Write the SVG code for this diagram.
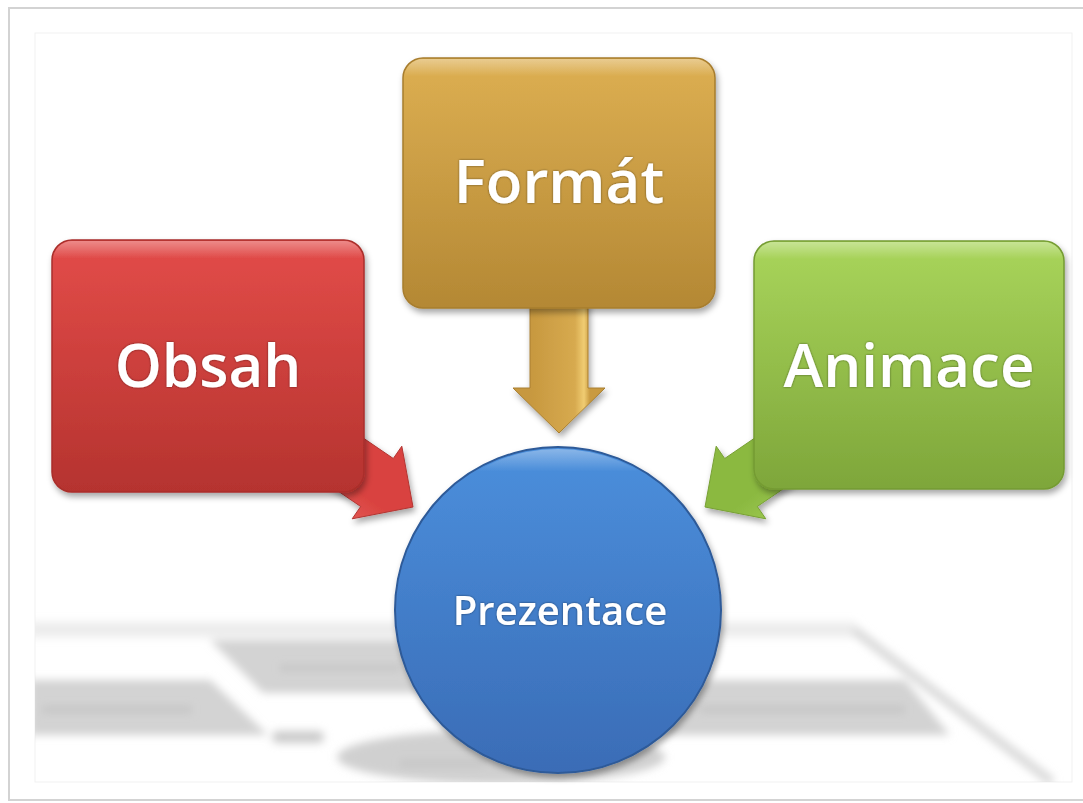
<svg xmlns="http://www.w3.org/2000/svg" width="1083" height="803" viewBox="0 0 1083 803">
<defs>
<style>
.lbl{font-family:"Open Sans","Noto Sans","DejaVu Sans",sans-serif;fill:#ffffff;text-anchor:middle;font-weight:600}
.big{font-size:60px}
.small{font-size:40px}
.refl{fill:#d3d3d3}
</style>
<linearGradient id="gRed" x1="0" y1="0" x2="0" y2="1"><stop offset="0" stop-color="#e34c49"/><stop offset="1" stop-color="#b5332f"/></linearGradient>
<linearGradient id="gGold" x1="0" y1="0" x2="0" y2="1"><stop offset="0" stop-color="#ddaf52"/><stop offset="1" stop-color="#b48834"/></linearGradient>
<linearGradient id="gGreen" x1="0" y1="0" x2="0" y2="1"><stop offset="0" stop-color="#a9d55b"/><stop offset="1" stop-color="#7ea63a"/></linearGradient>
<linearGradient id="gBlue" x1="0" y1="0" x2="0" y2="1"><stop offset="0" stop-color="#4b8fdc"/><stop offset="1" stop-color="#3a6cb6"/></linearGradient>
<linearGradient id="gHi" x1="0" y1="0" x2="0" y2="1"><stop offset="0" stop-color="#ffffff" stop-opacity="0.35"/><stop offset="0.07" stop-color="#ffffff" stop-opacity="0"/></linearGradient>
<linearGradient id="gArrRed" gradientUnits="userSpaceOnUse" x1="330" y1="470" x2="300" y2="512"><stop offset="0" stop-color="#d9423f"/><stop offset="1" stop-color="#e96863"/></linearGradient>
<linearGradient id="gArrGreen" gradientUnits="userSpaceOnUse" x1="788" y1="470" x2="818" y2="512"><stop offset="0" stop-color="#8bb941"/><stop offset="1" stop-color="#a6d157"/></linearGradient>
<linearGradient id="gArrGold" gradientUnits="userSpaceOnUse" x1="530" y1="0" x2="590" y2="0"><stop offset="0" stop-color="#c7983f"/><stop offset="0.75" stop-color="#d7aa4f"/><stop offset="0.9" stop-color="#f0cc72"/><stop offset="1" stop-color="#c99a40"/></linearGradient>
<filter id="shadow" x="-10%" y="-10%" width="125%" height="130%"><feDropShadow dx="2" dy="4" stdDeviation="3" flood-color="#000" flood-opacity="0.35"/></filter>
<filter id="tshadow" x="-10%" y="-20%" width="120%" height="140%"><feDropShadow dx="0" dy="0" stdDeviation="1" flood-color="#000" flood-opacity="0.5"/></filter>
<filter id="blur" x="-10%" y="-30%" width="120%" height="160%"><feGaussianBlur stdDeviation="4"/></filter>
<filter id="blurS" x="-10%" y="-50%" width="120%" height="200%"><feGaussianBlur stdDeviation="3.5"/></filter>
<clipPath id="panel"><rect x="35" y="33" width="1037" height="749"/></clipPath>
</defs>
<rect x="0" y="0" width="1083" height="803" fill="#ffffff"/>
<g id="frame">
<rect x="9" y="8" width="1090" height="792" fill="#ffffff" stroke="#d3d3d3" stroke-width="2"/>
<rect x="35" y="33" width="1037" height="749" fill="#ffffff" stroke="#f1f1f1" stroke-width="1"/>
</g>
<g id="reflection" clip-path="url(#panel)">
<g filter="url(#blur)">
<rect x="30" y="622" width="826" height="15" fill="#ececec"/>
<line x1="854" y1="630" x2="1052" y2="782" stroke="#d8d8d8" stroke-width="9"/>
<polygon class="refl" points="210,640 640,640 640,693 263,693"/>
<polygon class="refl" points="30,680 210,680 268,735 30,735"/>
<rect x="272" y="731" width="52" height="12" rx="6" fill="#cbcbcb"/>
<polygon class="refl" points="640,680 905,680 950,735 640,735"/>
<ellipse cx="501" cy="757" rx="164" ry="27" fill="#d0d0d0"/>
</g>
<g filter="url(#blurS)" fill="#c9c9c9">
<rect x="280" y="664" width="120" height="8"/>
<rect x="42" y="705" width="150" height="9"/>
<rect x="700" y="705" width="205" height="9"/>
<rect x="400" y="759" width="85" height="9"/>
</g>
</g>
<g id="connectors">
<path id="arrow-obsah" d="M269.3,374 L393.3,458.5 L401.8,446.2 L413,507 L352.2,518.8 L360.7,506.5 L236.7,422 Z" fill="url(#gArrRed)" stroke="#b23532" stroke-width="1" filter="url(#shadow)"/>
<path id="arrow-format" d="M530,300 L588,300 L588,388 L605,388 L559,433 L513,388 L530,388 Z" fill="url(#gArrGold)" stroke="#a97f30" stroke-width="1" filter="url(#shadow)"/>
<path id="arrow-animace" d="M848.7,374 L724.7,458.5 L716.2,446.2 L705,507 L765.8,518.8 L757.3,506.5 L881.3,422 Z" fill="url(#gArrGreen)" stroke="#78a035" stroke-width="1" filter="url(#shadow)"/>
</g>
<g id="node-obsah">
<rect x="52" y="240" width="312" height="252" rx="20" fill="url(#gRed)" stroke="#a92e2b" stroke-width="1.5" filter="url(#shadow)"/>
<rect x="53" y="241" width="310" height="250" rx="19" fill="url(#gHi)"/>
<text class="lbl big" x="208" y="387" filter="url(#tshadow)">Obsah</text>
</g>
<g id="node-format">
<rect x="403" y="58" width="312" height="250" rx="20" fill="url(#gGold)" stroke="#a77d2e" stroke-width="1.5" filter="url(#shadow)"/>
<rect x="404" y="59" width="310" height="248" rx="19" fill="url(#gHi)"/>
<text class="lbl big" x="559" y="203" filter="url(#tshadow)">Formát</text>
</g>
<g id="node-animace">
<rect x="754" y="241" width="310" height="248" rx="20" fill="url(#gGreen)" stroke="#749b33" stroke-width="1.5" filter="url(#shadow)"/>
<rect x="755" y="242" width="308" height="246" rx="19" fill="url(#gHi)"/>
<text class="lbl big" x="909" y="387" filter="url(#tshadow)">Animace</text>
</g>
<g id="node-prezentace">
<circle cx="558" cy="610" r="163" fill="url(#gBlue)" stroke="#2d5a98" stroke-width="2" filter="url(#shadow)"/>
<circle cx="558" cy="610" r="161" fill="url(#gHi)"/>
<text class="lbl small" x="560" y="625" filter="url(#tshadow)">Prezentace</text>
</g>
</svg>
